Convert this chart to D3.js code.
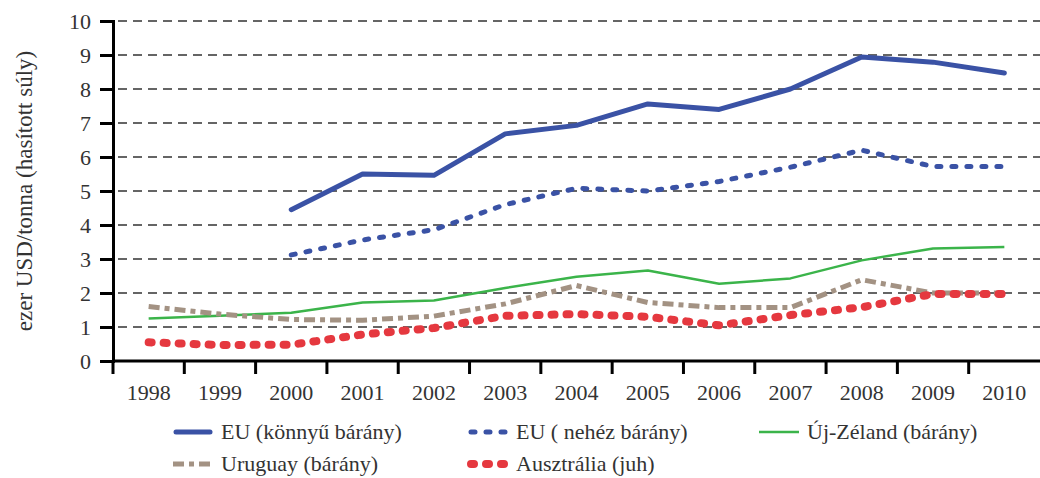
<!DOCTYPE html>
<html>
<head>
<meta charset="utf-8">
<script src="https://cdn.jsdelivr.net/npm/d3@7"></script>
<style>
  body { margin: 0; background: #fff; }
</style>
</head>
<body>
<div id="chart"></div>
<script>
var years = ["1998", "1999", "2000", "2001", "2002", "2003", "2004", "2005", "2006", "2007", "2008", "2009", "2010"];
var yTicks = [0, 1, 2, 3, 4, 5, 6, 7, 8, 9, 10];

var euLight = [null, null, 4.45, 5.5, 5.46, 6.68, 6.93, 7.56, 7.4, 8.0, 8.94, 8.79, 8.47];
var euHeavy = [null, null, 3.12, 3.56, 3.86, 4.6, 5.08, 5.0, 5.28, 5.7, 6.2, 5.72, 5.72];
var newZealand = [1.25, 1.33, 1.42, 1.72, 1.78, 2.15, 2.48, 2.66, 2.27, 2.43, 2.96, 3.31, 3.35];
var uruguay = [1.6, 1.38, 1.22, 1.2, 1.32, 1.68, 2.22, 1.72, 1.57, 1.57, 2.39, 2.0, 2.0];
var australia = [0.55, 0.47, 0.48, 0.78, 0.97, 1.33, 1.38, 1.3, 1.05, 1.35, 1.58, 1.97, 1.97];

var seriesNames = ["EU (könnyű bárány)", "EU ( nehéz bárány)", "Új-Zéland (bárány)", "Uruguay (bárány)", "Ausztrália (juh)"];

var series = [
    { name: seriesNames[0], values: euLight, color: "#3a52a5", width: 5, dash: null, cap: "round" },
    { name: seriesNames[1], values: euHeavy, color: "#3a52a5", width: 5, dash: "4,11", cap: "round" },
    { name: seriesNames[2], values: newZealand, color: "#3bb44a", width: 2.5, dash: null, cap: "butt" },
    { name: seriesNames[3], values: uruguay, color: "#a39283", width: 5, dash: "11,5,5,5", cap: "butt" },
    { name: seriesNames[4], values: australia, color: "#e5383f", width: 8, dash: "3,12", cap: "round" }
];

var fontFam = "'Liberation Serif', 'Times New Roman', Tinos, 'DejaVu Serif', serif";

var margin = { top: 21, right: 0, bottom: 117, left: 113 },
    width = 1040 - margin.left - margin.right,
    height = 478 - margin.top - margin.bottom;

var svg = d3.select("#chart")
    .append("svg")
    .attr("width", 1040)
    .attr("height", 478)
    .append("g")
    .attr("transform", "translate(" + margin.left + "," + margin.top + ")");

var x = d3.scaleBand()
    .domain(years)
    .range([0, 927]);

var y = d3.scaleLinear()
    .domain([0, 10])
    .range([height, 0]);

// grid lines
svg.append("g")
    .selectAll("line")
    .data(yTicks.filter(function (d) { return d > 0; }))
    .enter()
    .append("line")
    .attr("x1", 5)
    .attr("x2", width)
    .attr("y1", function (d) { return y(d); })
    .attr("y2", function (d) { return y(d); })
    .attr("stroke", "#333")
    .attr("stroke-width", 1.5)
    .attr("stroke-dasharray", "9,6");

// y axis
var yAxis = svg.append("g")
    .call(d3.axisLeft(y).tickValues(yTicks).tickSize(13).tickPadding(9));
yAxis.attr("font-family", fontFam).attr("font-size", 22);
yAxis.select(".domain").attr("stroke", "#000").attr("stroke-width", 3);
yAxis.selectAll(".tick line").attr("stroke", "#000").attr("stroke-width", 3);
yAxis.selectAll("text").attr("fill", "#333");

// x axis, ticks on category boundaries
var xAxis = svg.append("g")
    .attr("transform", "translate(0," + height + ")");
xAxis.append("line")
    .attr("x1", 0).attr("x2", width)
    .attr("stroke", "#000").attr("stroke-width", 3);
xAxis.selectAll(".xtick")
    .data(years)
    .enter()
    .append("line")
    .attr("class", "xtick")
    .attr("x1", function (d) { return x(d); })
    .attr("x2", function (d) { return x(d); })
    .attr("y1", 0).attr("y2", 13)
    .attr("stroke", "#000").attr("stroke-width", 3);
xAxis.selectAll(".xlabel")
    .data(years)
    .enter()
    .append("text")
    .attr("class", "xlabel")
    .attr("x", function (d) { return x(d) + x.bandwidth() / 2; })
    .attr("y", 39)
    .attr("text-anchor", "middle")
    .attr("font-family", fontFam)
    .attr("font-size", 22)
    .attr("fill", "#333")
    .text(function (d) { return d; });

// y axis title
svg.append("text")
    .attr("transform", "translate(-81," + (height / 2) + ") rotate(-90)")
    .attr("text-anchor", "middle")
    .attr("font-family", fontFam)
    .attr("font-size", 23)
    .attr("fill", "#333")
    .text("ezer USD/tonna (hasított súly)");

var line = d3.line()
    .defined(function (d) { return d != null; })
    .x(function (d, i) { return x(years[i]) + x.bandwidth() / 2; })
    .y(function (d) { return y(d); });

series.forEach(function (s) {
    svg.append("path")
        .datum(s.values)
        .attr("fill", "none")
        .attr("stroke", s.color)
        .attr("stroke-width", s.width)
        .attr("stroke-linecap", s.cap)
        .attr("stroke-linejoin", "round")
        .attr("stroke-dasharray", s.dash)
        .attr("d", line);
});

// legend
var legendPos = [[60, 411], [355, 411], [646, 411], [60, 443], [355, 443]];
var legend = svg.selectAll(".legend")
    .data(series)
    .enter()
    .append("g")
    .attr("class", "legend")
    .attr("transform", function (d, i) { return "translate(" + legendPos[i][0] + "," + legendPos[i][1] + ")"; });

legend.append("line")
    .attr("x1", function (d) { return d.cap === "round" ? 3 : 0; })
    .attr("x2", function (d) { return d.cap === "round" ? 37 : 40; })
    .attr("y1", 0).attr("y2", 0)
    .attr("stroke", function (d) { return d.color; })
    .attr("stroke-width", function (d) { return d.width; })
    .attr("stroke-linecap", function (d) { return d.cap; })
    .attr("stroke-dasharray", function (d) { return d.dash; });

legend.append("text")
    .attr("x", 48)
    .attr("y", 7)
    .attr("font-family", fontFam)
    .attr("font-size", 22)
    .attr("fill", "#333")
    .text(function (d) { return d.name; });
</script>
</body>
</html>
